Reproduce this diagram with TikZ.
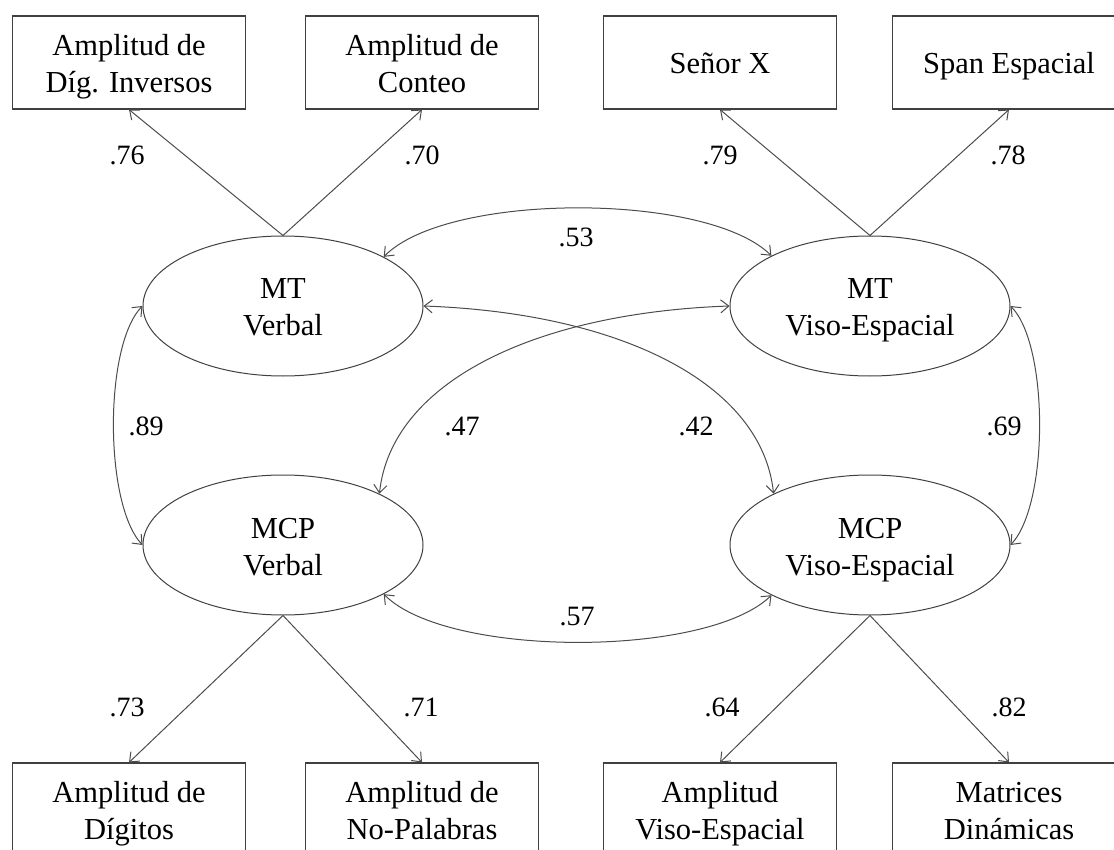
\documentclass[tikz,border=0pt]{standalone}
\usepackage{fontspec}
\setmainfont{Liberation Serif}
\usetikzlibrary{shapes.geometric,arrows.meta}
\newcommand{\ctrline}[1]{\hbox to 0pt{\hss\smash{#1}\hss}}
\newcommand{\twol}[2]{\rule{0pt}{60pt}\vbox{\ctrline{#1}\ctrline{#2}}}
\newcommand{\onel}[1]{\rule{0pt}{23pt}\ctrline{#1}}
\tikzset{
  obsbox/.style={draw=black!75, line width=1.1pt, minimum width=233pt, minimum height=93pt, inner sep=0pt, font=\fontsize{30.5}{37}\selectfont},
  latent/.style={draw=black!75, line width=1pt, ellipse, minimum width=280pt, minimum height=140pt, inner sep=0pt, font=\fontsize{30.5}{37}\selectfont},
  coef/.style={font=\fontsize{28}{30}\selectfont, inner sep=0pt},
  conn/.style={draw=black!70, line width=1pt},
  tip/.style={-{Straight Barb[length=8pt,width=13pt]}},
  dtip/.style={{Straight Barb[length=8pt,width=13pt]}-{Straight Barb[length=8pt,width=13pt]}}
}
\begin{document}
\begin{tikzpicture}[x=1pt,y=-1pt]
\useasboundingbox (0,0) rectangle (1114,850);
\clip (0,0) rectangle (1114,850);
% observed variables, top
\node[obsbox] (b1) at (129,62.5) {\twol{Amplitud de}{Díg. Inversos}};
\node[obsbox] (b2) at (422,62.5) {\twol{Amplitud de}{Conteo}};
\node[obsbox] (b3) at (720,62.5) {\onel{Señor X}};
\node[obsbox] (b4) at (1009,62.5) {\onel{Span Espacial}};
% observed variables, bottom
\node[obsbox] (b5) at (129,809.5) {\twol{Amplitud de}{Dígitos}};
\node[obsbox] (b6) at (422,809.5) {\twol{Amplitud de}{No-Palabras}};
\node[obsbox] (b7) at (720,809.5) {\twol{Amplitud}{Viso-Espacial}};
\node[obsbox] (b8) at (1009,809.5) {\twol{Matrices}{Dinámicas}};
% latent variables
\node[latent] (mtv) at (283,306) {\twol{MT}{Verbal}};
\node[latent] (mtve) at (870,306) {\twol{MT}{Viso-Espacial}};
\node[latent] (mcpv) at (283,545) {\twol{MCP}{Verbal}};
\node[latent] (mcpve) at (870,545) {\twol{MCP}{Viso-Espacial}};
% loadings
\draw[conn,tip] (mtv.north) -- (b1.south);
\draw[conn,tip] (mtv.north) -- (b2.south);
\draw[conn,tip] (mtve.north) -- (b3.south);
\draw[conn,tip] (mtve.north) -- (b4.south);
\draw[conn,tip] (mcpv.south) -- (b5.north);
\draw[conn,tip] (mcpv.south) -- (b6.north);
\draw[conn,tip] (mcpve.south) -- (b7.north);
\draw[conn,tip] (mcpve.south) -- (b8.north);
% correlations
\draw[conn,dtip] (mtv.26) .. controls (447,192) and (707,192) .. (mtve.153);
\draw[conn,dtip] (mcpv.-26) .. controls (447,658) and (707,658) .. (mcpve.207);
\draw[conn,dtip] (mtv.east) .. controls (620,313) and (762,383) .. (mcpve.152);
\draw[conn,dtip] (mtve.west) .. controls (533,313) and (391,383) .. (mcpv.28);
\draw[conn,dtip] (mtv.west) .. controls (104,345) and (104,504) .. (mcpv.west);
\draw[conn,dtip] (mtve.east) .. controls (1049,345) and (1049,504) .. (mcpve.east);
% coefficients
\node[coef] (c1) at (127,155) {.76};
\node[coef] (c2) at (422,155) {.70};
\node[coef] (c3) at (720,155) {.79};
\node[coef] (c4) at (1008,155) {.78};
\node[coef] (c5) at (576,237) {.53};
\node[coef] (c6) at (146,426) {.89};
\node[coef] (c7) at (462,426) {.47};
\node[coef] (c8) at (696,426) {.42};
\node[coef] (c9) at (1004,426) {.69};
\node[coef] (c10) at (577,617) {.57};
\node[coef] (c11) at (127,707) {.73};
\node[coef] (c12) at (421,707) {.71};
\node[coef] (c13) at (722,707) {.64};
\node[coef] (c14) at (1009,707) {.82};
\end{tikzpicture}
\end{document}
